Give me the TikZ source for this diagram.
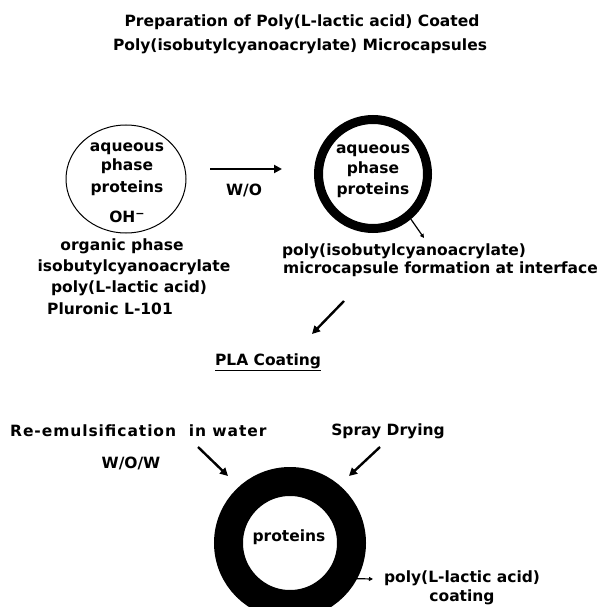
\documentclass[tikz,border=0pt]{standalone}
\usepackage{fontspec}
\setmainfont{DejaVu Sans}
\usetikzlibrary{arrows.meta,shapes.geometric}
\begin{document}
\begin{tikzpicture}[x=1pt,y=-1pt,
  txt/.style={inner sep=0pt,font=\fontsize{15.5}{17}\selectfont\bfseries},
  arr/.style={line width=2.4pt,-{Triangle[length=8pt,width=8pt]}},
  lead/.style={line width=1.2pt,-{Triangle[length=4pt,width=4pt]}}]
\useasboundingbox (0,0) rectangle (600,607);
% title
\node[txt] (t1) at (302,22) {Preparation of Poly(L-lactic acid) Coated};
\node[txt] (t2) at (300,46) {Poly(isobutylcyanoacrylate) Microcapsules};
% first droplet
\node[draw,ellipse,line width=1pt,minimum width=120pt,minimum height=108pt,inner sep=0pt] (c1) at (126,179) {};
\node[txt] (a1) at (127,149) {aqueous};
\node[txt] (p1) at (127,166) {phase};
\node[txt] (r1) at (127,188) {proteins};
\node[txt] (oh) at (127,217) {OH\raisebox{0.55ex}{\fontsize{11}{12}\selectfont −}};
\node[txt] (o1) at (122,246) {organic phase};
\node[txt] (o2) at (134,267) {isobutylcyanoacrylate};
\node[txt] (o3) at (129,288) {poly(L-lactic acid)};
\node[txt] (o4) at (110,309) {Pluronic L-101};
% arrow W/O
\coordinate (wa) at (210,169);
\coordinate (wb) at (282,169);
\draw[arr] (wa) -- (wb);
\node[txt] (wo) at (244,190) {W/O};
% microcapsule
\node[draw,circle,line width=9pt,minimum size=109pt,inner sep=0pt] (c2) at (373,174) {};
\node[txt] (a2) at (373,151) {aqueous};
\node[txt] (p2) at (373,169) {phase};
\node[txt] (r2) at (373,190) {proteins};
\coordinate (l2) at (424,238);
\draw[lead] (c2.-50) -- (l2);
\node[txt] (m1) at (404,251) {poly(isobutylcyanoacrylate)};
\node[txt,anchor=east] (m2) at (598,269) {microcapsule formation at interface};
% arrow to PLA coating
\coordinate (pa) at (344,301);
\coordinate (pb) at (312,334);
\draw[arr] (pa) -- (pb);
\node[txt] (pla) at (268,362) {\underline{PLA Coating}};
% methods
\node[txt,anchor=west,font=\fontsize{15.5}{17}\selectfont\bfseries\addfontfeatures{LetterSpace=6}] (re) at (10,431) {Re-emulsification\ \ in water};
\node[txt] (sd) at (388,431) {Spray Drying};
\node[txt] (wow) at (131,463) {W/O/W};
\coordinate (la) at (198,447);
\coordinate (lb) at (228,476);
\coordinate (ra) at (380,447);
\coordinate (rb) at (349,476);
\draw[arr] (la) -- (lb);
\draw[arr] (ra) -- (rb);
% coated microcapsule
\node[draw,circle,line width=29pt,minimum size=123pt,inner sep=0pt] (c3) at (290,543) {};
\node[txt] (r3) at (289,537) {proteins};
\coordinate (l3) at (373,579);
\draw[lead] (c3.-28) -- (l3);
\node[txt] (q1) at (462,578) {poly(L-lactic acid)};
\node[txt] (q2) at (462,597) {coating};
\end{tikzpicture}
\end{document}
